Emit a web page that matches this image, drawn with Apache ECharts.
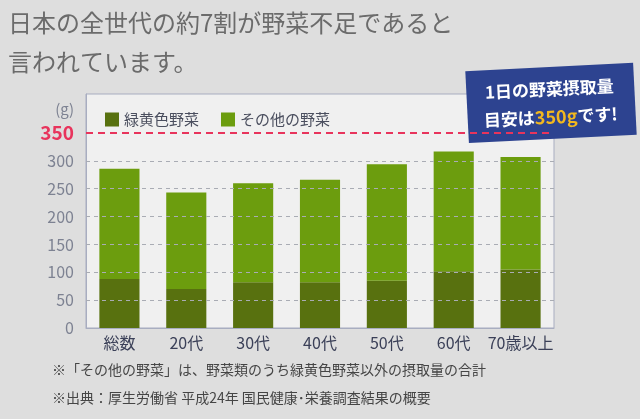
<!DOCTYPE html>
<html><head><meta charset="utf-8">
<script src="https://cdn.jsdelivr.net/npm/echarts@6/dist/echarts.min.js"></script>
<style>html,body{margin:0;padding:0;background:#dedede;}#c{width:640px;height:419px;}</style>
</head><body><div id="c"></div>
<script>
const categories = ['総数', '20代', '30代', '40代', '50代', '60代', '70歳以上'];
const greenYellow = [88, 70, 82, 82, 85, 102, 105];
const otherVeg = [198, 173, 178, 184, 209, 215, 202];
const gridValues = [50, 100, 150, 200, 250, 300];
const targetValue = 350;
const titleLines = ['日本の全世代の約7割が野菜不足であると', '言われています。'];
const notes = ['※「その他の野菜」は、野菜類のうち緑黄色野菜以外の摂取量の合計', '※出典：厚生労働省 平成24年 国民健康･栄養調査結果の概要'];

const FONT = '"Noto Sans CJK JP", "Noto Sans", sans-serif';
const chart = echarts.init(document.getElementById('c'));
const markLines = gridValues.map(v => ({ yAxis: v, lineStyle: { color: '#a9acb4', type: [4, 4], width: 1 } }));
markLines.push({ yAxis: targetValue, lineStyle: { color: '#e8345c', type: [7, 5], width: 2 } });

chart.setOption({
  backgroundColor: '#dedede',
  textStyle: { fontFamily: FONT },
  grid: { left: 86, right: 86, top: 94, bottom: 91, show: true, backgroundColor: '#f0f0f0', borderColor: '#a8adc0', borderWidth: 1 },
  legend: {
    left: 100, top: 107, itemWidth: 14, itemHeight: 14, itemGap: 22,
    icon: 'rect',
    textStyle: { fontSize: 15, color: '#4a4e5e', fontFamily: FONT },
    data: ['緑黄色野菜', 'その他の野菜']
  },
  xAxis: {
    type: 'category', data: categories,
    axisLine: { lineStyle: { color: '#a8adc0' } },
    axisTick: { show: false },
    axisLabel: { fontSize: 16, color: '#3b4058', margin: 7, interval: 0, fontFamily: FONT }
  },
  yAxis: {
    type: 'value', min: 0, max: 420, interval: 50,
    name: '(g)', nameLocation: 'end', nameGap: -8,
    nameTextStyle: { color: '#7d8292', fontSize: 15, align: 'right', verticalAlign: 'top', padding: [0, 12, 0, 0] },
    splitLine: { show: false },
    axisLine: { show: true, lineStyle: { color: '#a8adc0' } },
    axisTick: { show: false },
    axisLabel: {
      margin: 12,
      fontFamily: FONT,
      fontSize: 16,
      color: '#7d8292',
      formatter: v => (v == targetValue ? '{r|350}' : (v < targetValue ? String(v) : '')),
      rich: { r: { color: '#e8345c', fontSize: 19, fontWeight: 'bold', fontFamily: FONT } }
    }
  },
  series: [
    {
      name: '緑黄色野菜', type: 'bar', stack: 'v', data: greenYellow, barWidth: '60%',
      itemStyle: { color: '#58710f' },
      markLine: { silent: true, symbol: 'none', label: { show: false }, data: markLines }
    },
    {
      name: 'その他の野菜', type: 'bar', stack: 'v', data: otherVeg, barWidth: '60%',
      itemStyle: { color: '#6c9d0e' }
    }
  ],
  graphic: [
    { type: 'text', left: 8, top: 11, style: { text: titleLines[0], font: '24px ' + FONT, fill: '#6b6b6b' } },
    { type: 'text', left: 8, top: 50, style: { text: titleLines[1], font: '24px ' + FONT, fill: '#6b6b6b' } },
    { type: 'text', left: 52, top: 363, style: { text: notes[0], font: '14px ' + FONT, fill: '#454545' } },
    { type: 'text', left: 52, top: 391, style: { text: notes[1], font: '14px ' + FONT, fill: '#454545' } },
    {
      type: 'group', x: 550, y: 103, rotation: 0.05,
      children: [
        { type: 'rect', shape: { x: -83, y: -36, width: 168, height: 72 }, style: { fill: '#2d4390' } },
        { type: 'text', x: 0, y: -14, style: { text: '1日の野菜摂取量', font: 'bold 17px ' + FONT, fill: '#ffffff', align: 'center', verticalAlign: 'middle' } },
        { type: 'text', x: 0, y: 14, style: {
            text: '{w|目安は}{y|350g}{w|です!}', align: 'center', verticalAlign: 'middle',
            rich: {
              w: { font: 'bold 17px ' + FONT, fill: '#ffffff', color: '#ffffff' },
              y: { font: 'bold 18px ' + FONT, fill: '#f2b81e', color: '#f2b81e' }
            }
        } }
      ]
    }
  ]
});
</script></body></html>
